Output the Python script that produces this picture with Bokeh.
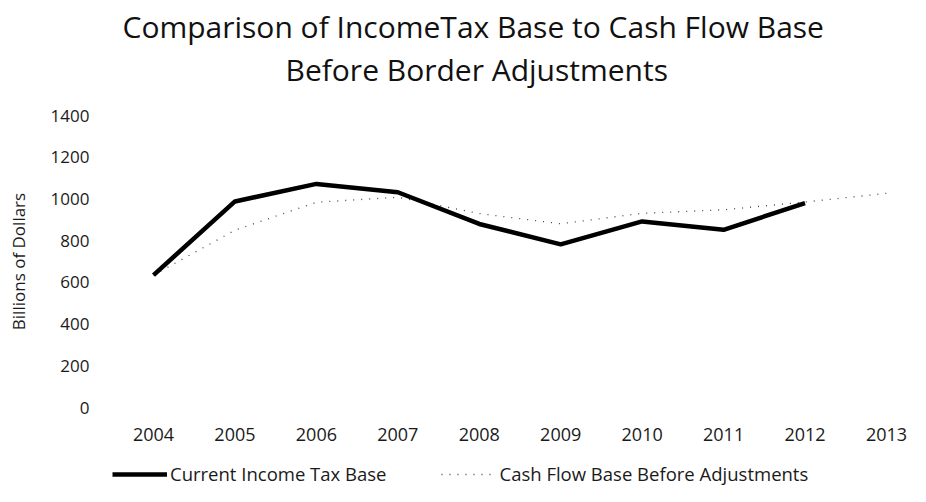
from bokeh.plotting import figure
from bokeh.models import Range1d, Title, Legend, LegendItem, FixedTicker, ColumnDataSource
from bokeh.layouts import column
from bokeh.embed import file_html
from bokeh.resources import INLINE

years = [2004, 2005, 2006, 2007, 2008, 2009, 2010, 2011, 2012, 2013]
current_years = [2004, 2005, 2006, 2007, 2008, 2009, 2010, 2011, 2012]
current_income_tax_base = [635, 988, 1072, 1032, 880, 782, 892, 852, 980]
cash_flow_base = [635, 850, 984, 1008, 930, 881, 931, 948, 985, 1027]
y_ticks = [0, 200, 400, 600, 800, 1000, 1200, 1400]

FONT = "Open Sans"
CUR_STYLE = dict(line_color="black", line_width=4.5)
CASH_STYLE = dict(line_color="#444444", line_width=1.3, line_dash="1 7")

p = figure(width=910, height=460, output_backend="svg", toolbar_location=None,
           x_range=Range1d(2003.472, 2013.295), y_range=Range1d(0, 1400),
           min_border_left=110, min_border_right=0, min_border_top=115, min_border_bottom=53)
p.outline_line_color = None
p.xgrid.visible = False
p.ygrid.visible = False
p.title.visible = False

for ax in (p.xaxis[0], p.yaxis[0]):
    ax.axis_line_color = None
    ax.major_tick_line_color = None
    ax.minor_tick_line_color = None
    ax.major_label_text_font = FONT
    ax.major_label_text_color = "#1a1a1a"

p.xaxis.ticker = FixedTicker(ticks=years)
p.xaxis.major_label_text_font_size = "18px"
p.xaxis.major_label_standoff = 14
p.yaxis.ticker = FixedTicker(ticks=y_ticks)
p.yaxis.major_label_text_font_size = "17px"
p.yaxis.major_label_standoff = 15
p.yaxis.axis_label = "Billions of Dollars"
p.yaxis.axis_label_text_font = FONT
p.yaxis.axis_label_text_font_size = "17px"
p.yaxis.axis_label_text_font_style = "normal"
p.yaxis.axis_label_text_color = "#1a1a1a"
p.yaxis.axis_label_standoff = 18

src_cash = ColumnDataSource(dict(x=years, y=cash_flow_base))
src_cur = ColumnDataSource(dict(x=current_years, y=current_income_tax_base))
p.line("x", "y", source=src_cash, **CASH_STYLE)
p.line("x", "y", source=src_cur, **CUR_STYLE)

spacer = Title(text=" ", text_font=FONT, text_font_size="18px", standoff=0)
t2 = Title(text="Before Border Adjustments", align="left", offset=175, text_font=FONT,
           text_font_size="30px", text_font_style="normal", text_color="#111111", standoff=0)
t1 = Title(text="Comparison of IncomeTax Base to Cash Flow Base", align="left", offset=12,
           text_font=FONT, text_font_size="30px", text_font_style="normal",
           text_color="#111111", standoff=0)
p.add_layout(spacer, "above")
p.add_layout(t2, "above")
p.add_layout(t1, "above")

# legend strip
p2 = figure(width=910, height=26, output_backend="svg", toolbar_location=None,
            x_range=Range1d(0, 1), y_range=Range1d(0, 1), min_border=0)
p2.xaxis.visible = False
p2.yaxis.visible = False
p2.xgrid.visible = False
p2.ygrid.visible = False
p2.outline_line_color = None
l_cur = p2.line(x=[-5, -4], y=[-5, -4], **CUR_STYLE)
l_cash = p2.line(x=[-5, -4], y=[-5, -4], **CASH_STYLE)

legend = Legend(items=[LegendItem(label="Current Income Tax Base", renderers=[l_cur]),
                       LegendItem(label="Cash Flow Base Before Adjustments", renderers=[l_cash])],
                orientation="horizontal", location=(2, 0))
legend.glyph_width = 55
legend.glyph_height = 16
legend.label_standoff = 3
legend.spacing = 55
legend.padding = 0
legend.margin = 0
legend.border_line_color = None
legend.background_fill_alpha = 0
legend.label_text_font = FONT
legend.label_text_font_size = "18.5px"
legend.label_text_color = "#1a1a1a"
p2.add_layout(legend, "center")

layout = column(p, p2, spacing=0)
open("out.html", "w").write(file_html(layout, INLINE))
